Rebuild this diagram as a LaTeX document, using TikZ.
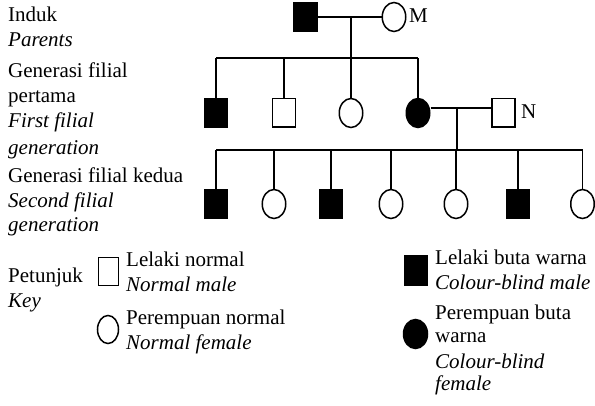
\documentclass[tikz,border=0pt]{standalone}
\usepackage{fontspec}
\setmainfont{Liberation Serif}
\usetikzlibrary{shapes.geometric}
\begin{document}
\begin{tikzpicture}[x=1pt,y=-1pt,
  every node/.style={font=\fontsize{21}{25}\selectfont},
  ln/.style={line width=1.5pt},
  sq/.style={rectangle,draw,line width=1.5pt,minimum width=23pt,minimum height=28.5pt,inner sep=0pt},
  fsq/.style={sq,fill=black},
  ci/.style={ellipse,draw,line width=1.5pt,minimum width=23.5pt,minimum height=29pt,inner sep=0pt},
  fci/.style={ci,fill=black},
  lbl/.style={anchor=base west,inner sep=0pt},
  it/.style={lbl,font=\fontsize{21}{25}\selectfont\itshape}]
\useasboundingbox (0,0) rectangle (595,406);
% left labels
\node[lbl] (t1) at (8,22) {Induk};
\node[it]  (t2) at (8,47) {Parents};
\node[lbl] (t3) at (8,78) {Generasi filial};
\node[lbl] (t4) at (8,103) {pertama};
\node[it]  (t5) at (8,128) {First filial};
\node[it]  (t6) at (8,155) {generation};
\node[lbl] (t7) at (8,183) {Generasi filial kedua};
\node[it]  (t8) at (8,208) {Second filial};
\node[it]  (t9) at (8,232) {generation};
\node[lbl] (t10) at (8,283) {Petunjuk};
\node[it]  (t11) at (8,308) {Key};
% parents
\node[fsq] (P) at (305.5,17) {};
\node[ci] (M) at (394,17) {};
\node[anchor=west,inner sep=0pt] (Ml) at (409,16) {M};
\draw[ln] (P) -- (M);
\coordinate (pm) at (351,17);
\coordinate (f1L) at (216,58);
\coordinate (f1R) at (418,58);
\draw[ln] (f1L) -- (f1R);
\draw[ln] (pm) -- (pm |- f1L);
% F1
\node[fsq] (a1) at (216,113) {};
\node[sq]  (a2) at (284,113) {};
\node[ci]  (a3) at (351,113) {};
\node[fci] (a4) at (418,113) {};
\foreach \c in {a1,a2,a3,a4} \draw[ln] (\c.north) -- (\c |- f1L);
\node[sq] (N) at (503.5,113) {};
\node[anchor=west,inner sep=0pt] (Nl) at (521,112) {N};
\draw[ln] ([yshift=5pt]a4.east) -- ([yshift=5pt]N.west);
\coordinate (an) at (457,108);
\coordinate (f2L) at (216,150);
\coordinate (f2R) at (583,150);
\draw[ln] (f2L) -- (f2R);
\draw[ln] (an) -- (an |- f2L);
% F2
\node[fsq] (b1) at (216,204) {};
\node[ci]  (b2) at (274,204) {};
\node[fsq] (b3) at (331,204) {};
\node[ci]  (b4) at (391,204) {};
\node[ci]  (b5) at (456,204) {};
\node[fsq] (b6) at (518,204) {};
\node[ci]  (b7) at (582.5,204) {};
\foreach \c in {b1,b2,b3,b4,b5,b6,b7} \draw[ln] (\c.north) -- (\c |- f2L);
% key
\node[sq,minimum width=20pt,minimum height=28pt] (k1) at (108.5,271.5) {};
\node[lbl] (k1a) at (126,267) {Lelaki normal};
\node[it]  (k1b) at (126,292) {Normal male};
\node[ci,minimum width=21pt,minimum height=28pt] (k2) at (108,329.5) {};
\node[lbl] (k2a) at (126,325) {Perempuan normal};
\node[it]  (k2b) at (126,350) {Normal female};
\node[fsq,minimum width=23pt,minimum height=30pt] (k3) at (416,270.5) {};
\node[lbl] (k3a) at (435,265) {Lelaki buta warna};
\node[it]  (k3b) at (435,290) {Colour-blind male};
\node[fci,minimum width=24pt,minimum height=29pt] (k4) at (415.5,334) {};
\node[lbl] (k4a) at (435,320) {Perempuan buta};
\node[lbl] (k4b) at (435,343) {warna};
\node[it]  (k4c) at (435,368) {Colour-blind};
\node[it]  (k4d) at (435,390) {female};
\end{tikzpicture}
\end{document}
